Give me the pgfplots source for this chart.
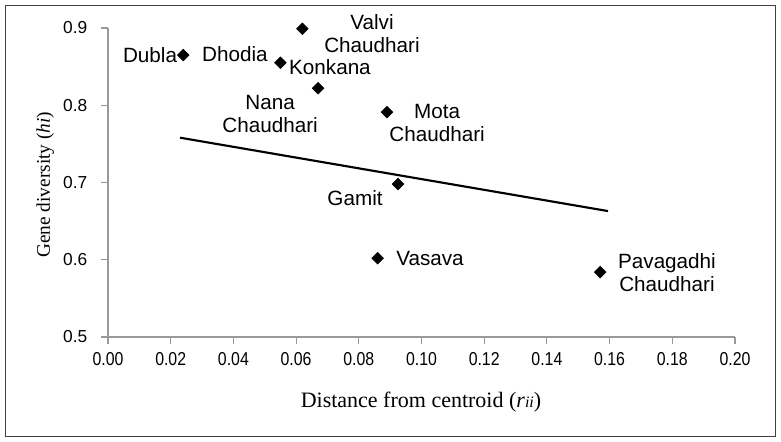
\documentclass[border=0pt]{standalone}
\usepackage{fontspec}
\setmainfont{Liberation Sans}
\newfontfamily\seriffont{Liberation Serif}
\newfontfamily\narrowfont[FakeStretch=0.85]{Liberation Sans}
\usepackage{pgfplots}
\pgfplotsset{compat=1.18}

\begin{document}
\begin{tikzpicture}[x=1pt,y=1pt]
% 1 px of the reference = 0.75pt
\useasboundingbox (0,0) rectangle (585.75,331.5);
\draw[black!75, line width=1.2pt] (4,4) rectangle (581.5,327.5);

\begin{axis}[
    at={(81pt,78.75pt)}, anchor=south west,
    scale only axis,
    width=470.25pt, height=231.75pt,
    xmin=0, xmax=0.2,
    ymin=0.5, ymax=0.9,
    axis lines*=left,
    axis line style={-, black!40, line width=0.8pt},
    tick style={black!40, line width=0.8pt},
    tick align=outside,
    major tick length=5pt,
    xtick={0,0.02,0.04,0.06,0.08,0.10,0.12,0.14,0.16,0.18,0.20},
    ytick={0.5,0.6,0.7,0.8,0.9},
    xticklabel style={font=\narrowfont\fontsize{14}{16}\selectfont,
        /pgf/number format/.cd, fixed, fixed zerofill, precision=2},
    yticklabel style={font=\fontsize{13}{15}\selectfont, xshift=-7pt,
        /pgf/number format/.cd, fixed, fixed zerofill, precision=1},
    /pgf/number format/assume math mode=true,
    xticklabel shift=3pt,
    clip=false,
]

% populations: distance from centroid (rii), gene diversity (hi)
\addplot[only marks, mark=square*, mark size=3.1pt, mark options={rotate=45}, black] coordinates {
    (0.024, 0.865)   % Dubla
    (0.055, 0.855)   % Dhodia / Konkana
    (0.062, 0.899)   % Valvi Chaudhari
    (0.067, 0.822)   % Nana Chaudhari
    (0.089, 0.791)   % Mota Chaudhari
    (0.0925, 0.698)  % Gamit
    (0.086, 0.602)   % Vasava
    (0.157, 0.584)   % Pavagadhi Chaudhari
};

% regression line
\addplot[black, line width=1.6pt] coordinates {(0.023, 0.758) (0.1595, 0.663)};

\begin{scope}[every node/.style={font=\fontsize{15.5}{17.5}\selectfont, align=center, inner sep=0pt}]
\node at (axis cs:0.0134,0.865) {Dubla};
\node at (axis cs:0.0405,0.866) {Dhodia};
\node at (axis cs:0.0708,0.850) {Konkana};
\node at (axis cs:0.0842,0.893) {Valvi\\[0pt]Chaudhari};
\node at (axis cs:0.0517,0.789) {Nana\\[0pt]Chaudhari};
\node at (axis cs:0.1050,0.777) {Mota\\[0pt]Chaudhari};
\node at (axis cs:0.0788,0.680) {Gamit};
\node at (axis cs:0.1027,0.602) {Vasava};
\node at (axis cs:0.1783,0.583) {Pavagadhi\\[0pt]Chaudhari};
\end{scope}
\end{axis}

\node[font=\seriffont\fontsize{16.5}{19}\selectfont] at (315.75,30) {Distance from centroid (\textit{r}{\fontsize{12}{14}\selectfont\textit{ii}})};
\node[font=\seriffont\fontsize{14.5}{17}\selectfont, rotate=90] at (34,193) {Gene diversity (\textit{hi})};
\end{tikzpicture}
\end{document}
